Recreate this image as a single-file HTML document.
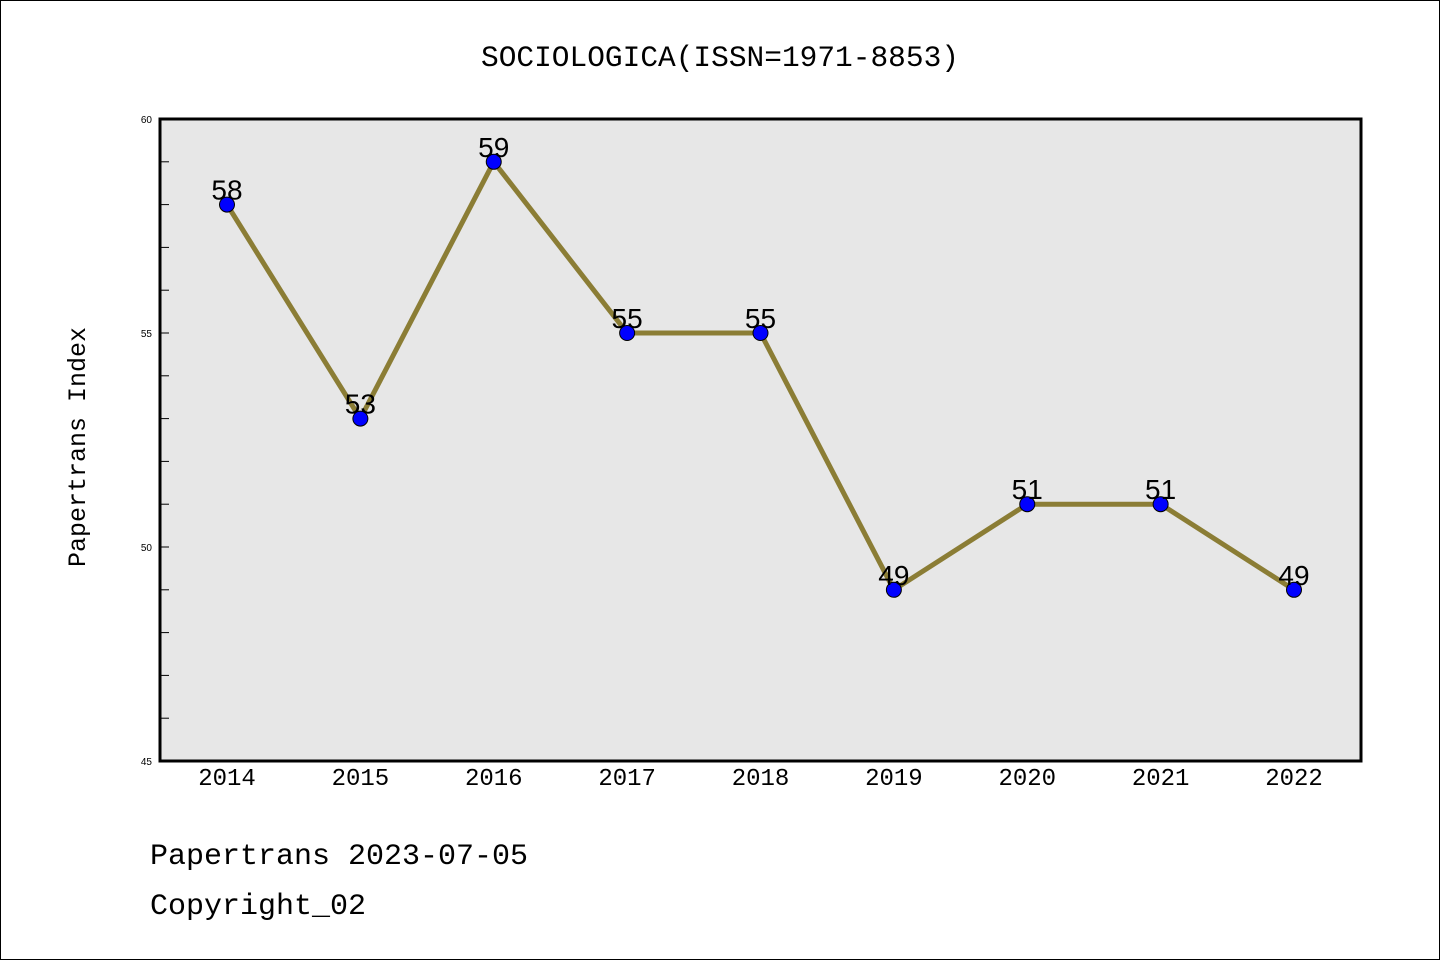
<!DOCTYPE html>
<html><head><meta charset="utf-8"><style>
body{margin:0;background:#fff}
svg{display:block}
text{font-family:"Liberation Mono","WenQuanYi Zen Hei",monospace}
</style></head><body>
<svg width="1440" height="960">
<rect x="0.5" y="0.5" width="1439" height="959" fill="#fff" stroke="#000"/>
<text x="720" y="66" font-size="29.5" text-anchor="middle">SOCIOLOGICA(ISSN=1971-8853)</text>
<rect x="160" y="119" width="1201" height="642" fill="#e7e7e7"/>
<g id="ticks"></g>
<g id="series"></g>
<rect x="160" y="119" width="1201" height="642" fill="none" stroke="#000" stroke-width="3"/>
<text x="85" y="447" font-size="25" text-anchor="middle" transform="rotate(-90 85 447)">Papertrans Index</text>
<text x="150" y="864" font-size="30">Papertrans 2023-07-05</text>
<text x="150" y="914" font-size="30">Copyright_02</text>
</svg>
<script>
const years=[2014,2015,2016,2017,2018,2019,2020,2021,2022];
const values=[58,53,59,55,55,49,51,51,49];
const yTickLabels=[45,50,55,60];
const NS='http://www.w3.org/2000/svg';
const x=i=>227+i*(1294-227)/(years.length-1);
const y=v=>761-(v-45)*(642/15);
function mk(tag,attrs,parent){const e=document.createElementNS(NS,tag);for(const k in attrs)e.setAttribute(k,attrs[k]);parent.appendChild(e);return e;}
const tg=document.getElementById('ticks');
for(let v=45;v<=60;v++){
  const l=mk('line',{x1:160,x2:169,y1:y(v),y2:y(v),stroke:'#000','stroke-width':1},tg);
  
  
}
yTickLabels.forEach(v=>{
  const t=mk('text',{x:152,y:y(v)+4,'font-size':10,'text-anchor':'end',style:'font-family:"Liberation Sans",sans-serif'},tg);
  
  
  t.textContent=v;
});
years.forEach((yr,i)=>{
  const t=mk('text',{x:x(i),y:785,'font-size':24,'text-anchor':'middle'},tg);
  
  
  t.textContent=yr;
});
const sg=document.getElementById('series');
const pl=mk('polyline',{points:values.map((v,i)=>x(i)+','+y(v)).join(' '),fill:'none',stroke:'#8b7d35','stroke-width':5},sg);


values.forEach((v,i)=>{
  const c=mk('circle',{cx:x(i),cy:y(v),r:7.5,fill:'#0000ff',stroke:'#000','stroke-width':1},sg);
  
  
  const t=mk('text',{x:x(i),y:y(v)-5,'font-size':28,'text-anchor':'middle',fill:'#000'},sg);
  
  
  t.setAttribute('style','font-family:"Liberation Sans",sans-serif');
  t.textContent=v;
});
</script>
</body></html>
